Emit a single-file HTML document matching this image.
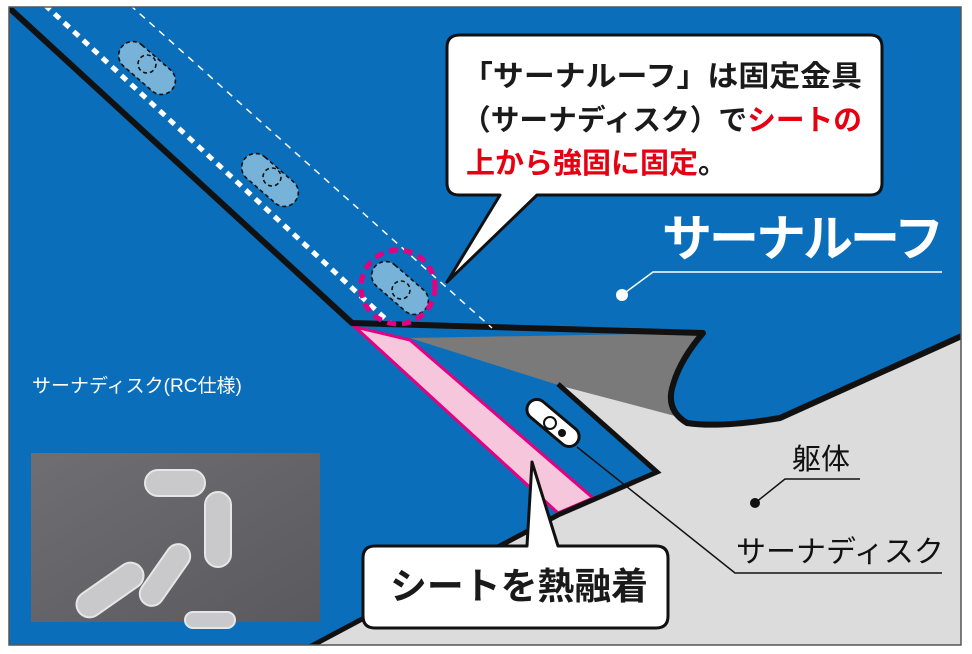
<!DOCTYPE html>
<html><head><meta charset="utf-8"><style>
html,body{margin:0;padding:0;background:#fff;}
svg{display:block;}
text{font-family:"Liberation Sans","Noto Sans CJK JP",sans-serif;}
</style></head><body>
<svg width="972" height="654" viewBox="0 0 972 654" xmlns="http://www.w3.org/2000/svg">
<defs><clipPath id="fr"><rect x="9" y="7" width="952" height="638"/></clipPath>
<linearGradient id="ph" x1="0" y1="0" x2="1" y2="1"><stop offset="0" stop-color="#6f6f73"/><stop offset="1" stop-color="#5a5a5e"/></linearGradient></defs>
<g clip-path="url(#fr)">
<rect x="0" y="0" width="972" height="654" fill="#0a6ebb"/>
<path d="M285,660 L558,515 L657,472 L558,385 L673,415 Q690,425 720,424 L780,418 L975,330 L975,660 Z" fill="#dcdcdc"/>
<path d="M410,338 L703,333 Q680,360 673,385 Q668,405 675,416 L558,385 Z" fill="#7a7a7a"/>
<path d="M410,340 L558,385 L657,472 L558,515 Z" fill="#0a6ebb"/>
<path d="M355,327 L410,340 L593,498 L558,513 Z" fill="#f6c6dd" stroke="#e4007f" stroke-width="3"/>
<path d="M5,4 L352,323 L703,333 Q680,360 673,385 Q665,410 687,423 Q720,428 780,418 L975,330" fill="none" stroke="#111" stroke-width="6" stroke-linejoin="round"/>
<path d="M558,384 L657,472 L558,515 L285,660" fill="none" stroke="#111" stroke-width="5"/>
<line x1="45" y1="5" x2="390" y2="323" stroke="#fff" stroke-width="5" stroke-dasharray="7,6"/>
<line x1="130" y1="5" x2="492" y2="328" stroke="#fff" stroke-width="1.5" stroke-dasharray="7,6"/>
<g fill="#77b3d9" stroke="#111" stroke-width="1.6" stroke-dasharray="4,3">
<rect x="-33" y="-14" width="66" height="28" rx="14" transform="translate(147,68) rotate(41)"/>
<circle cx="147" cy="64" r="9" fill="none"/>
<rect x="-33" y="-14" width="66" height="28" rx="14" transform="translate(270,180) rotate(41)"/>
<circle cx="272" cy="177" r="9" fill="none"/>
<rect x="-33" y="-14" width="66" height="28" rx="14" transform="translate(400,288) rotate(41)"/>
<circle cx="401" cy="290" r="9" fill="none"/>
</g>
<circle cx="398" cy="287" r="37" fill="none" stroke="#e4007f" stroke-width="5" stroke-dasharray="9,6"/>
<rect x="-31" y="-10" width="62" height="20" rx="10" transform="translate(553,423) rotate(40)" fill="#fff" stroke="#111" stroke-width="3"/>
<circle cx="550" cy="423" r="6" fill="#fff" stroke="#111" stroke-width="2"/>
<circle cx="562" cy="433" r="4" fill="#111"/>
<polyline points="577,447 735,573 942,573" fill="none" stroke="#111" stroke-width="1.5"/>
<polyline points="755,503 785,479 860,479" fill="none" stroke="#111" stroke-width="1.5"/>
<circle cx="755" cy="503" r="5" fill="#111"/>
<text x="792" y="469" font-size="29" fill="#111">躯体</text>
<text x="736" y="562" font-size="30" fill="#111">サーナディスク</text>
<polyline points="622,295 653,272 942,272" fill="none" stroke="#fff" stroke-width="1.5"/>
<circle cx="622" cy="295" r="6" fill="#fff"/>
<text x="662" y="256" font-size="50" font-weight="bold" fill="#fff" letter-spacing="-3">サーナルーフ</text>
<path d="M460,35 L870,35 Q882,35 882,47 L882,183 Q882,195 870,195 L537,195 L447,282 L500,195 L459,195 Q447,195 447,183 L447,47 Q447,35 460,35 Z" fill="#fff" stroke="#111" stroke-width="3" stroke-linejoin="round"/>
<text x="462" y="86" font-size="29" font-weight="600" fill="#1a1a1a" textLength="400" lengthAdjust="spacingAndGlyphs">「サーナルーフ」は固定金具</text>
<text x="462" y="130" font-size="29" font-weight="600" fill="#1a1a1a" textLength="400" lengthAdjust="spacingAndGlyphs">（サーナディスク）で<tspan fill="#e60012" font-weight="bold">シートの</tspan></text>
<text x="466" y="173" font-size="29" font-weight="bold" fill="#e60012">上から強固に固定<tspan fill="#1a1a1a">。</tspan></text>
<path d="M375,546 L527,546 L532,462 L558,546 L656,546 Q668,546 668,558 L668,616 Q668,628 656,628 L375,628 Q363,628 363,616 L363,558 Q363,546 375,546 Z" fill="#fff" stroke="#111" stroke-width="3" stroke-linejoin="round"/>
<text x="390" y="599" font-size="37" font-weight="600" fill="#1a1a1a" textLength="258" lengthAdjust="spacingAndGlyphs">シートを熱融着</text>
<text x="32" y="392" font-size="19" fill="#fff">サーナディスク(RC仕様)</text>
<rect x="31" y="453" width="289" height="169" fill="url(#ph)"/>
<g fill="#c9c9cc" stroke="#e6e6e8" stroke-width="2">
<rect x="-30" y="-13" width="60" height="26" rx="13" transform="translate(175,483)"/>
<rect x="-13" y="-35" width="26" height="75" rx="13" transform="translate(218,527)"/>
<rect x="-38" y="-13" width="76" height="26" rx="13" transform="translate(110,590) rotate(-35)"/>
<rect x="-35" y="-12" width="70" height="24" rx="12" transform="translate(165,575) rotate(-55)"/>
<rect x="-25" y="-8" width="50" height="16" rx="8" transform="translate(210,620)"/>
</g>
</g>
<rect x="9" y="7" width="952" height="638" fill="none" stroke="#555" stroke-width="1.5"/>
</svg>
</body></html>
